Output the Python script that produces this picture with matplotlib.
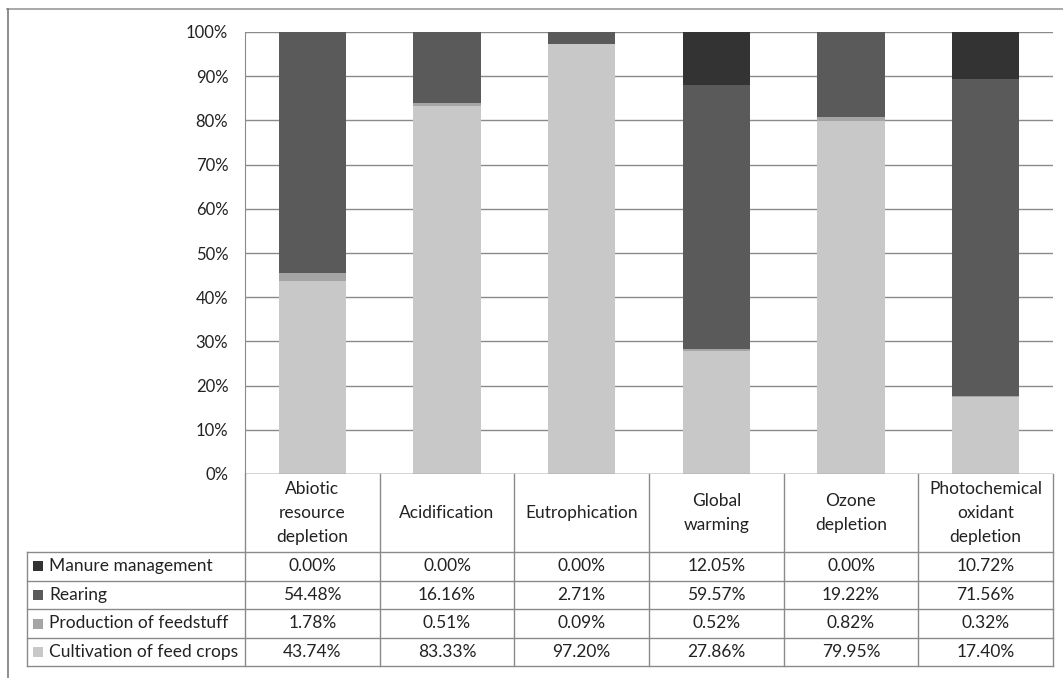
import matplotlib
matplotlib.use("Agg")
import matplotlib.pyplot as plt
from matplotlib.patches import Rectangle

plt.rcParams["font.family"] = ["Lato", "DejaVu Sans"]

categories = ["Abiotic\nresource\ndepletion", "Acidification", "Eutrophication",
              "Global\nwarming", "Ozone\ndepletion",
              "Photochemical\noxidant\ndepletion"]
series_names = ["Manure management", "Rearing", "Production of feedstuff",
                "Cultivation of feed crops"]
manure = [0.00, 0.00, 0.00, 12.05, 0.00, 10.72]
rearing = [54.48, 16.16, 2.71, 59.57, 19.22, 71.56]
production = [1.78, 0.51, 0.09, 0.52, 0.82, 0.32]
cultivation = [43.74, 83.33, 97.20, 27.86, 79.95, 17.40]
yticks = [0, 10, 20, 30, 40, 50, 60, 70, 80, 90, 100]

COLORS = ["#333333", "#5a5a5a", "#a5a5a5", "#c8c8c8"]
GRID = "#8a8a8a"
INK = "#222222"
FS = 12.5

W, H = 1063, 678
fig = plt.figure(figsize=(W / 100, H / 100), dpi=100)
fig.patch.set_facecolor("white")

# axes placed in pixels: x 245..1053, y 32..474
ax = fig.add_axes([245 / W, 1 - 474 / H, 808 / W, 442 / H])
ax.set_xlim(-0.5, 5.5)
ax.set_ylim(0, 100)

x = list(range(len(categories)))
values = [manure, rearing, production, cultivation]
bottom = [0.0] * len(x)
for name, vals, col in reversed(list(zip(series_names, values, COLORS))):
    ax.bar(x, vals, width=0.5, bottom=bottom, color=col, zorder=3)
    bottom = [b + v for b, v in zip(bottom, vals)]

ax.set_yticks(yticks)
ax.set_yticklabels(["%d%%" % t for t in yticks], fontsize=12, color=INK)
ax.tick_params(axis="y", length=0, pad=12)
ax.set_xticks([])
ax.grid(axis="y", color=GRID, linewidth=1, zorder=0)
for s in ["top", "right", "bottom"]:
    ax.spines[s].set_visible(False)
ax.spines["left"].set_color(GRID)
ax.axhline(0, color=GRID, linewidth=1, zorder=4)

# ---- data table under the chart (x in data, y in axes fraction) ----
tr = ax.get_xaxis_transform()
px = 1 / 442.0  # one pixel in axes fraction
cw = 808 / 6.0  # one column in pixels
head_bot = -78 * px
row_h = 28.6 * px
n_rows = len(series_names)
table_bot = head_bot - n_rows * row_h
x_left = -0.5 - 218 / cw

def line(xs, ys):
    ax.plot(xs, ys, color=GRID, linewidth=1, transform=tr, clip_on=False)

# vertical lines of the header + body
for i in range(len(categories) + 1):
    line([i - 0.5, i - 0.5], [0, table_bot])
line([x_left, x_left], [head_bot, table_bot])
# horizontal lines
for r in range(n_rows + 1):
    yy = head_bot - r * row_h
    line([x_left, 5.5], [yy, yy])

# header text
for i, c in enumerate(categories):
    ax.text(i, head_bot / 2, c, transform=tr, ha="center", va="center",
            fontsize=FS, color=INK, linespacing=1.6, clip_on=False)

# rows
for r, (name, vals, col) in enumerate(zip(series_names, values, COLORS)):
    yc = head_bot - (r + 0.5) * row_h
    ax.add_patch(Rectangle((x_left + 6 / cw, yc - 5 * px), 10 / cw, 10 * px,
                           facecolor=col, edgecolor="none", transform=tr,
                           clip_on=False))
    ax.text(x_left + 22 / cw, yc, name, transform=tr, ha="left",
            va="center", fontsize=FS, color=INK, clip_on=False)
    for i, v in enumerate(vals):
        ax.text(i, yc, "%.2f%%" % v, transform=tr, ha="center", va="center",
                fontsize=FS, color=INK, clip_on=False)

# outer frame (top and left edges visible)
fig.add_artist(plt.Line2D([7 / W, 1], [1 - 8.5 / H, 1 - 8.5 / H],
                          color="#9a9a9a", linewidth=1.2))
fig.add_artist(plt.Line2D([7.5 / W, 7.5 / W], [0, 1 - 8.5 / H],
                          color="#7a7a7a", linewidth=1.2))

fig.savefig("out.png", dpi=100, facecolor="white")
